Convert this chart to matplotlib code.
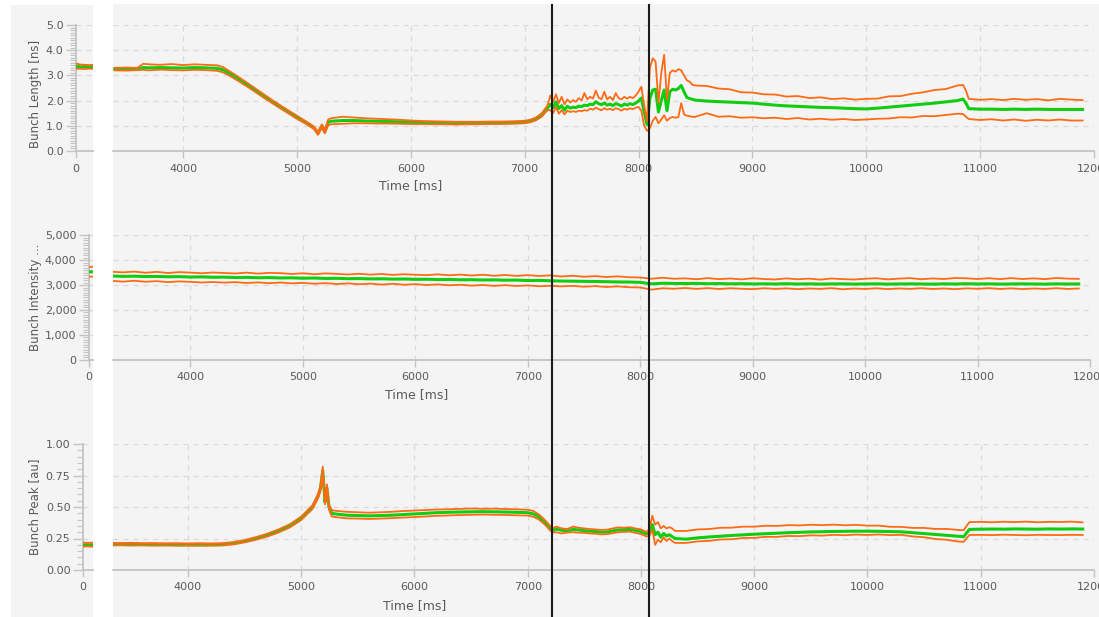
import matplotlib
matplotlib.use("Agg")
import matplotlib.pyplot as plt
from matplotlib.ticker import MultipleLocator, FixedLocator, FuncFormatter
from matplotlib.patches import Rectangle
from matplotlib.lines import Line2D

plt.rcParams['font.family'] = ['DejaVu Sans']

# ---------------------------------------------------------------- data
# Bunch length [ns]: mean and upper / lower envelope
len_t = [3400, 3500, 3600, 3650, 3700, 3800, 3900, 4000, 4100, 4200,
         4300, 4350, 4400, 4500, 4600, 4700, 4800, 4900, 5000, 5100,
         5150, 5185, 5220, 5245, 5275,
         5300, 5400, 5500, 5600, 5700, 5800, 5900, 6000, 6100, 6200,
         6300, 6400, 6500, 6600, 6700, 6800, 6900, 7000, 7050, 7100,
         7150, 7200,
         7225, 7250, 7275, 7300, 7325, 7350, 7375, 7400, 7425, 7450,
         7475, 7500, 7525, 7550, 7575, 7600, 7625, 7650, 7675, 7700,
         7725, 7750, 7775, 7800, 7825, 7850, 7875, 7900, 7925, 7950,
         7975, 8000, 8025, 8050, 8075,
         8100, 8125, 8150, 8175, 8200, 8225, 8250, 8275, 8300, 8325,
         8350, 8375, 8400, 8425, 8450, 8475, 8500,
         8600, 8700, 8800, 8900, 9000, 9100, 9200, 9300, 9400, 9500,
         9600, 9700, 9800, 9900, 10000, 10100, 10200, 10300, 10400, 10500,
         10600, 10700, 10800, 10850, 10875, 10900, 11000, 11100, 11200, 11300,
         11400, 11500, 11600, 11700, 11800, 11900]
len_mean = [3.25, 3.24, 3.26, 3.31, 3.30, 3.31, 3.30, 3.29, 3.31, 3.30,
            3.28, 3.22, 3.10, 2.82, 2.52, 2.21, 1.91, 1.62, 1.34, 1.07,
            0.92, 0.70, 1.00, 0.76, 1.15,
            1.18, 1.21, 1.21, 1.19, 1.18, 1.17, 1.16, 1.14, 1.13, 1.12,
            1.11, 1.11, 1.11, 1.11, 1.12, 1.12, 1.13, 1.15, 1.19, 1.27,
            1.42, 1.70,
            1.85, 1.72, 1.95, 1.68, 1.80, 1.62, 1.78, 1.70, 1.74, 1.72,
            1.78, 1.76, 1.82, 1.80, 1.86, 1.84, 1.95, 1.88, 1.84, 1.90,
            1.82, 1.86, 1.80, 1.88, 1.84, 1.78, 1.86, 1.82, 1.88, 1.84,
            1.90, 1.98, 2.10, 1.55, 1.05,
            2.10, 2.42, 2.45, 1.55, 2.00, 2.42, 1.60, 2.36, 2.45, 2.42,
            2.48, 2.60, 2.35, 2.12, 2.08, 2.05, 2.02,
            1.98, 1.96, 1.94, 1.92, 1.90, 1.86, 1.82, 1.79, 1.77, 1.75,
            1.73, 1.72, 1.70, 1.68, 1.67, 1.70, 1.74, 1.78, 1.82, 1.86,
            1.90, 1.95, 2.00, 2.06, 1.90, 1.68, 1.66, 1.66, 1.65, 1.66,
            1.65, 1.66, 1.65, 1.65, 1.65, 1.65]
len_hi = [3.30, 3.31, 3.30, 3.46, 3.44, 3.42, 3.45, 3.41, 3.44, 3.42,
          3.40, 3.33, 3.19, 2.90, 2.59, 2.28, 1.97, 1.68, 1.40, 1.12,
          0.97, 0.76, 1.06, 0.82, 1.25,
          1.30, 1.36, 1.33, 1.30, 1.28, 1.26, 1.24, 1.21, 1.19, 1.18,
          1.17, 1.16, 1.16, 1.16, 1.17, 1.17, 1.18, 1.20, 1.24, 1.33,
          1.50, 1.80,
          2.20, 1.95, 2.25, 1.90, 2.15, 1.85, 2.05, 1.92, 2.02, 1.95,
          2.10, 2.00, 2.30, 2.05, 2.15, 2.08, 2.40, 2.12, 2.05, 2.35,
          2.05, 2.15, 2.02, 2.30, 2.10, 2.05, 2.15, 2.08, 2.15, 2.10,
          2.20, 2.35, 2.55, 1.80, 1.20,
          3.30, 3.68, 3.55, 1.90, 3.10, 3.82, 2.05, 3.10, 3.20, 3.15,
          3.25, 3.20, 3.00, 2.80, 2.75, 2.62, 2.60,
          2.58, 2.48, 2.45, 2.33, 2.32, 2.25, 2.24, 2.16, 2.18, 2.10,
          2.13, 2.06, 2.09, 2.04, 2.07, 2.08, 2.17, 2.18, 2.27, 2.33,
          2.42, 2.46, 2.60, 2.62, 2.40, 2.07, 2.03, 2.06, 2.02, 2.07,
          2.03, 2.06, 2.01, 2.07, 2.04, 2.02]
len_lo = [3.20, 3.19, 3.21, 3.22, 3.20, 3.23, 3.21, 3.20, 3.22, 3.21,
          3.18, 3.12, 3.01, 2.74, 2.45, 2.14, 1.85, 1.56, 1.28, 1.02,
          0.87, 0.64, 0.93, 0.70, 1.02,
          1.06, 1.08, 1.10, 1.10, 1.09, 1.09, 1.08, 1.07, 1.07, 1.06,
          1.06, 1.05, 1.06, 1.06, 1.07, 1.07, 1.08, 1.10, 1.14, 1.22,
          1.36, 1.62,
          1.62, 1.50, 1.75, 1.48, 1.62, 1.45, 1.60, 1.55, 1.58, 1.55,
          1.60, 1.58, 1.62, 1.60, 1.68, 1.64, 1.72, 1.66, 1.62, 1.70,
          1.64, 1.68, 1.62, 1.70, 1.66, 1.60, 1.68, 1.64, 1.70, 1.66,
          1.72, 1.75, 1.60, 1.00, 0.80,
          0.90, 1.20, 1.35, 1.10, 1.25, 1.42, 1.20, 1.31, 1.35, 1.32,
          1.35, 1.90, 1.45, 1.40, 1.38, 1.35, 1.36,
          1.50, 1.36, 1.38, 1.32, 1.34, 1.30, 1.32, 1.27, 1.31, 1.25,
          1.28, 1.24, 1.27, 1.23, 1.25, 1.28, 1.29, 1.34, 1.33, 1.39,
          1.38, 1.43, 1.48, 1.47, 1.36, 1.27, 1.23, 1.26, 1.21, 1.25,
          1.20, 1.24, 1.21, 1.25, 1.21, 1.21]

# Bunch intensity: mean and upper / lower envelope
int_t = [3300, 3400, 3500, 3600, 3700, 3800, 3900, 4000, 4100, 4200,
         4300, 4400, 4500, 4600, 4700, 4800, 4900, 5000, 5100, 5200,
         5300, 5400, 5500, 5600, 5700, 5800, 5900, 6000, 6100, 6200,
         6300, 6400, 6500, 6600, 6700, 6800, 6900, 7000, 7100, 7200,
         7300, 7400, 7500, 7600, 7700, 7800, 7900, 8000, 8100, 8200,
         8300, 8400, 8500, 8600, 8700, 8800, 8900, 9000, 9100, 9200,
         9300, 9400, 9500, 9600, 9700, 9800, 9900, 10000, 10100, 10200,
         10300, 10400, 10500, 10600, 10700, 10800, 10900, 11000, 11100, 11200,
         11300, 11400, 11500, 11600, 11700, 11800, 11900]
int_mean = [3360, 3345, 3352, 3338, 3342, 3330, 3335, 3318, 3326, 3310,
            3314, 3298, 3305, 3290, 3296, 3282, 3288, 3272, 3279, 3262,
            3268, 3252, 3258, 3244, 3249, 3236, 3240, 3226, 3231, 3218,
            3222, 3208, 3212, 3200, 3204, 3192, 3196, 3178, 3184, 3168,
            3158, 3152, 3146, 3140, 3132, 3122, 3118, 3105, 3045, 3070,
            3062, 3058, 3064, 3052, 3056, 3046, 3052, 3042, 3048, 3040,
            3050, 3040, 3046, 3036, 3042, 3046, 3036, 3042, 3047, 3036,
            3041, 3046, 3040, 3035, 3045, 3040, 3050, 3041, 3046, 3036,
            3041, 3046, 3040, 3036, 3045, 3040, 3041]
int_hi = [3530, 3505, 3535, 3490, 3525, 3480, 3515, 3495, 3470, 3500,
          3480, 3460, 3495, 3455, 3485, 3475, 3440, 3470, 3430, 3465,
          3445, 3420, 3450, 3415, 3440, 3405, 3430, 3410, 3395, 3425,
          3390, 3415, 3380, 3410, 3370, 3400, 3365, 3395, 3360, 3385,
          3340, 3370, 3330, 3355, 3320, 3345, 3310, 3300, 3250, 3290,
          3250, 3265, 3230, 3275, 3235, 3260, 3225, 3270, 3240, 3220,
          3265, 3230, 3255, 3215, 3260, 3235, 3220, 3250, 3270, 3225,
          3255, 3275, 3230, 3262, 3240, 3280, 3268, 3240, 3272, 3236,
          3275, 3240, 3265, 3235, 3280, 3255, 3245]
int_lo = [3165, 3135, 3170, 3130, 3155, 3115, 3145, 3125, 3100, 3120,
          3095, 3115, 3080, 3105, 3070, 3100, 3065, 3085, 3050, 3075,
          3040, 3065, 3030, 3055, 3015, 3050, 3010, 3035, 3000, 3025,
          2990, 3010, 2975, 3000, 2965, 2995, 2960, 2985, 2950, 2970,
          2945, 2965, 2930, 2955, 2920, 2945, 2910, 2900, 2815, 2870,
          2850, 2880, 2845, 2875, 2840, 2870, 2850, 2835, 2870, 2845,
          2865, 2835, 2860, 2845, 2875, 2830, 2858, 2842, 2868, 2836,
          2862, 2845, 2872, 2840, 2860, 2835, 2866, 2848, 2874, 2842,
          2866, 2838, 2860, 2845, 2872, 2842, 2860]

# Bunch peak [au]: mean and upper / lower envelope
peak_t = [3340, 3400, 3500, 3600, 3700, 3800, 3900, 4000, 4100, 4200,
          4300, 4400, 4500, 4600, 4700, 4800, 4900, 5000, 5100, 5150,
          5170, 5190, 5210, 5227, 5245, 5270, 5300, 5400, 5500, 5600,
          5700, 5800, 5900, 6000, 6100, 6200, 6300, 6400, 6500, 6600,
          6700, 6800, 6900, 7000, 7050, 7100, 7150, 7200, 7225,
          7250, 7300, 7350, 7400, 7450, 7500, 7550, 7600, 7650, 7700,
          7750, 7800, 7850, 7900, 7950, 8000, 8050,
          8075, 8100, 8125, 8150, 8175, 8200, 8225, 8250, 8275, 8300,
          8400, 8500, 8600, 8700, 8800, 8900, 9000, 9100, 9200, 9300,
          9400, 9500, 9600, 9700, 9800, 9900, 10000, 10100, 10200, 10300,
          10400, 10500, 10600, 10700, 10800, 10850, 10875, 10900,
          11000, 11100, 11200, 11300, 11400, 11500, 11600, 11700, 11800, 11900]
peak_mean = [0.205, 0.205, 0.203, 0.204, 0.202, 0.203, 0.202, 0.201, 0.202, 0.201,
             0.203, 0.212, 0.228, 0.250, 0.276, 0.310, 0.350, 0.410, 0.500, 0.590,
             0.650, 0.790, 0.540, 0.650, 0.500, 0.450, 0.445, 0.435, 0.432, 0.430,
             0.432, 0.435, 0.440, 0.445, 0.450, 0.455, 0.458, 0.460, 0.462, 0.463,
             0.462, 0.460, 0.458, 0.455, 0.445, 0.420, 0.380, 0.330, 0.315,
             0.325, 0.315, 0.310, 0.322, 0.318, 0.312, 0.308, 0.305, 0.300, 0.302,
             0.310, 0.318, 0.320, 0.322, 0.315, 0.305, 0.285,
             0.300, 0.360, 0.280, 0.300, 0.260, 0.290, 0.270, 0.280, 0.265, 0.250,
             0.245, 0.255, 0.262, 0.268, 0.274, 0.279, 0.284, 0.288, 0.292, 0.296,
             0.299, 0.302, 0.304, 0.306, 0.307, 0.308, 0.308, 0.307, 0.305, 0.303,
             0.296, 0.289, 0.282, 0.275, 0.268, 0.264, 0.295, 0.322,
             0.324, 0.325, 0.324, 0.326, 0.325, 0.324, 0.326, 0.325, 0.326, 0.325]
peak_hi = [0.215, 0.214, 0.216, 0.213, 0.214, 0.212, 0.213, 0.211, 0.213, 0.211,
           0.213, 0.222, 0.238, 0.261, 0.288, 0.322, 0.363, 0.424, 0.515, 0.607,
           0.670, 0.820, 0.560, 0.680, 0.520, 0.475, 0.470, 0.462, 0.458, 0.455,
           0.458, 0.462, 0.468, 0.472, 0.476, 0.480, 0.482, 0.485, 0.488, 0.486,
           0.487, 0.484, 0.482, 0.478, 0.468, 0.440, 0.398, 0.348, 0.332,
           0.345, 0.330, 0.325, 0.345, 0.335, 0.330, 0.325, 0.322, 0.318, 0.320,
           0.330, 0.338, 0.335, 0.340, 0.330, 0.322, 0.300,
           0.330, 0.430, 0.360, 0.380, 0.330, 0.350, 0.330, 0.340, 0.330, 0.310,
           0.310, 0.322, 0.325, 0.335, 0.336, 0.344, 0.344, 0.351, 0.350, 0.356,
           0.354, 0.359, 0.356, 0.360, 0.355, 0.358, 0.352, 0.352, 0.343, 0.342,
           0.334, 0.334, 0.326, 0.326, 0.318, 0.316, 0.350, 0.380,
           0.382, 0.379, 0.383, 0.380, 0.384, 0.379, 0.382, 0.381, 0.384, 0.378]
peak_lo = [0.195, 0.196, 0.194, 0.195, 0.193, 0.194, 0.192, 0.193, 0.192, 0.193,
           0.194, 0.203, 0.219, 0.240, 0.265, 0.298, 0.338, 0.397, 0.485, 0.572,
           0.630, 0.760, 0.520, 0.620, 0.480, 0.425, 0.420, 0.410, 0.408, 0.405,
           0.408, 0.412, 0.416, 0.420, 0.425, 0.430, 0.433, 0.436, 0.438, 0.440,
           0.438, 0.437, 0.434, 0.432, 0.422, 0.400, 0.362, 0.312, 0.298,
           0.300, 0.290, 0.298, 0.300, 0.296, 0.295, 0.290, 0.288, 0.282, 0.285,
           0.292, 0.300, 0.302, 0.305, 0.295, 0.285, 0.265,
           0.270, 0.320, 0.200, 0.240, 0.220, 0.260, 0.230, 0.250, 0.230, 0.215,
           0.215, 0.227, 0.231, 0.242, 0.244, 0.254, 0.255, 0.263, 0.263, 0.270,
           0.269, 0.275, 0.273, 0.279, 0.276, 0.281, 0.278, 0.282, 0.277, 0.279,
           0.266, 0.260, 0.246, 0.240, 0.226, 0.224, 0.252, 0.278,
           0.279, 0.277, 0.280, 0.278, 0.276, 0.279, 0.278, 0.277, 0.279, 0.278]

# Overview strip at injection (t = 0 ms)
snap_t = [0, 40, 80, 120, 160]
snap_len_mean = [3.36, 3.34, 3.35, 3.33, 3.34]
snap_len_hi = [3.47, 3.43, 3.42, 3.41, 3.42]
snap_len_lo = [3.26, 3.27, 3.25, 3.27, 3.26]
snap_int_mean = [3530, 3525, 3520, 3528, 3522]
snap_int_hi = [3730, 3725, 3720, 3722, 3718]
snap_int_lo = [3330, 3335, 3328, 3332, 3330]
snap_peak_mean = [0.200, 0.199, 0.200, 0.198, 0.199]
snap_peak_hi = [0.218, 0.215, 0.217, 0.214, 0.216]
snap_peak_lo = [0.186, 0.188, 0.185, 0.187, 0.186]

# Cursor positions [ms]
cursor_times = [7240, 8090]

time_ticks = [4000, 5000, 6000, 7000, 8000, 9000, 10000, 11000, 12000]

# ---------------------------------------------------------------- style
W, H = 1099, 617
PANEL_BG = '#f4f4f4'
AXIS = '#c4c4c4'
GRID = '#d9d9d9'
TEXT = '#5a5a5a'
GREEN = '#12cc12'
ORANGE = '#ff6a14'

fig = plt.figure(figsize=(W / 100, H / 100), dpi=100)
fig.patch.set_facecolor('white')


def box(x0, x1, y0, y1):
    """Figure-fraction rectangle from pixel edges, y measured from the top."""
    return [x0 / W, 1 - y1 / H, (x1 - x0) / W, (y1 - y0) / H]


fig.add_artist(Rectangle((11 / W, 0), (93 - 11) / W, 1 - 5 / H,
                         transform=fig.transFigure, facecolor=PANEL_BG,
                         edgecolor='none', zorder=-2))
fig.add_artist(Rectangle((113 / W, 0), (W - 113) / W, 1 - 4 / H,
                         transform=fig.transFigure, facecolor=PANEL_BG,
                         edgecolor='none', zorder=-2))

rows = [
    dict(main=box(113, 1094, 25, 151), side=box(76, 93, 25, 151),
         xlim=(3385, 12000), ylim=(0, 5), major=1.0, minor=0.1,
         fmt=lambda v, p: f'{v:.1f}', label='Bunch Length [ns]',
         label_y=94, xlabel_x=411, xlabel_y=186,
         t=len_t, m=len_mean, hi=len_hi, lo=len_lo,
         sm=snap_len_mean, shi=snap_len_hi, slo=snap_len_lo),
    dict(main=box(113, 1090, 235, 360), side=box(89, 93, 235, 360),
         xlim=(3311, 12000), ylim=(0, 5000), major=1000, minor=100,
         fmt=lambda v, p: f'{v:,.0f}', label='Bunch Intensity ...',
         label_y=297, xlabel_x=417, xlabel_y=395,
         t=int_t, m=int_mean, hi=int_hi, lo=int_lo,
         sm=snap_int_mean, shi=snap_int_hi, slo=snap_int_lo),
    dict(main=box(113, 1094, 444, 570), side=box(83, 93, 444, 570),
         xlim=(3338, 12000), ylim=(0, 1.0), major=0.25, minor=0.05,
         fmt=lambda v, p: f'{v:.2f}', label='Bunch Peak [au]',
         label_y=507, xlabel_x=415, xlabel_y=606,
         t=peak_t, m=peak_mean, hi=peak_hi, lo=peak_lo,
         sm=snap_peak_mean, shi=snap_peak_hi, slo=snap_peak_lo),
]

main_axes = []
for r in rows:
    # ---- main time trace
    ax = fig.add_axes(r['main'])
    ax.set_facecolor('none')
    ax.set_xlim(*r['xlim'])
    ax.set_ylim(*r['ylim'])
    for s in ('top', 'right', 'left'):
        ax.spines[s].set_visible(False)
    ax.spines['bottom'].set_color(AXIS)
    ax.spines['bottom'].set_linewidth(1.3)
    ax.xaxis.set_major_locator(FixedLocator(time_ticks))
    ax.xaxis.set_major_formatter(FuncFormatter(lambda v, p: f'{v:.0f}'))
    ax.yaxis.set_major_locator(MultipleLocator(r['major']))
    ax.tick_params(axis='y', left=False, labelleft=False)
    ax.tick_params(axis='x', direction='out', length=5, width=1.0,
                   color=AXIS, labelcolor=TEXT, labelsize=8, pad=4)
    ax.grid(True, color=GRID, lw=0.9, ls=(0, (4, 4)))
    ax.set_axisbelow(True)
    ax.plot(r['t'], r['m'], color=GREEN, lw=2.2, solid_joinstyle='round', zorder=3)
    ax.plot(r['t'], r['hi'], color=ORANGE, lw=1.3, zorder=4)
    ax.plot(r['t'], r['lo'], color=ORANGE, lw=1.3, zorder=4)
    main_axes.append(ax)

    # ---- injection snapshot strip
    sx = fig.add_axes(r['side'])
    sx.set_facecolor('none')
    sx.set_xlim(0, 160 * (r['side'][2] * W) / 17)
    sx.set_ylim(*r['ylim'])
    for s in ('top', 'right'):
        sx.spines[s].set_visible(False)
    for s in ('left', 'bottom'):
        sx.spines[s].set_color(AXIS)
        sx.spines[s].set_linewidth(1.3)
    sx.xaxis.set_major_locator(FixedLocator([0]))
    sx.xaxis.set_major_formatter(FuncFormatter(lambda v, p: f'{v:.0f}'))
    sx.yaxis.set_major_locator(MultipleLocator(r['major']))
    sx.yaxis.set_minor_locator(MultipleLocator(r['minor']))
    sx.yaxis.set_major_formatter(FuncFormatter(r['fmt']))
    sx.tick_params(axis='x', direction='out', length=5, width=1.0,
                   color=AXIS, labelcolor=TEXT, labelsize=8, pad=4)
    sx.tick_params(axis='y', which='major', direction='out', length=7,
                   width=1.0, color=AXIS, labelcolor=TEXT, labelsize=8, pad=2)
    sx.tick_params(axis='y', which='minor', direction='out', length=4,
                   width=0.8, color=AXIS)
    sx.grid(True, axis='y', color=GRID, lw=0.9, ls=(0, (4, 4)))
    sx.set_axisbelow(True)
    sx.plot(snap_t, r['sm'], color=GREEN, lw=2.2, zorder=3)
    sx.plot(snap_t, r['shi'], color=ORANGE, lw=1.3, zorder=4)
    sx.plot(snap_t, r['slo'], color=ORANGE, lw=1.3, zorder=4)

    fig.text(35 / W, 1 - r['label_y'] / H, r['label'], rotation=90,
             ha='center', va='center', fontsize=8.5, color=TEXT)
    fig.text(r['xlabel_x'] / W, 1 - r['xlabel_y'] / H, 'Time [ms]',
             ha='center', va='center', fontsize=9, color=TEXT)

# Cursor lines through all three panels
top_ax = main_axes[0]
for tc in cursor_times:
    xd = top_ax.transData.transform((tc, 0))[0]
    xf = fig.transFigure.inverted().transform((xd, 0))[0]
    fig.add_artist(Line2D([xf, xf], [0, 1 - 5 / H], transform=fig.transFigure,
                          color='#1c1c1c', lw=1.5, zorder=10))

fig.savefig('out.png', dpi=100, facecolor='white')
